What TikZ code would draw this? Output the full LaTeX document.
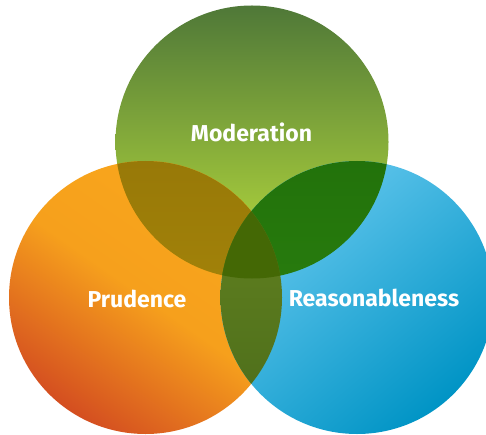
\documentclass[tikz,border=0pt]{standalone}
\usepackage{fontspec}
\setmainfont{Fira Sans}

\definecolor{greentop}{HTML}{4F7838}
\definecolor{greenbot}{HTML}{BCE03C}
\definecolor{orangelight}{HTML}{F9A71C}
\definecolor{orangedark}{HTML}{D44E20}
\definecolor{bluelight}{HTML}{6ACAF0}
\definecolor{bluedark}{HTML}{0094C5}
\definecolor{olivetop}{HTML}{987908}
\definecolor{olivebot}{HTML}{AD8C0A}
\definecolor{leaftop}{HTML}{22720B}
\definecolor{leafbot}{HTML}{2E8610}
\definecolor{lenstop}{HTML}{668521}
\definecolor{lensbot}{HTML}{4B6C1A}
\definecolor{core}{HTML}{446805}

\tikzset{
    label text/.style={text=white, font=\bfseries\fontsize{23}{26}\selectfont}
}

\begin{document}
\begin{tikzpicture}[x=1pt, y=1pt]

    % Fix the page to the size of the picture
    \useasboundingbox (0, 0) rectangle (486, 434);

    % Define the centres of the three circles
    \coordinate (M) at (252, 292);
    \coordinate (P) at (145.5, 136.5);
    \coordinate (R) at (357, 136.5);
    \def\rad{136.5}

    % Draw the three circles
    % The orange one stays almost flat above its diagonal and darkens below it
    % (middle color has to come last, top/bottom color reset it)
    \shade[top color=greentop, bottom color=greenbot] (M) circle (\rad);
    \shade[top color=orangelight, bottom color=orangedark, middle color=orangelight!92!orangedark, shading angle=-35] (P) circle (\rad);
    \shade[top color=bluelight, bottom color=bluedark, shading angle=40] (R) circle (\rad);

    % Overlap of Moderation and Prudence
    \begin{scope}
        \clip (M) circle (\rad);
        \shade[top color=olivetop, bottom color=olivebot] (P) circle (\rad);
    \end{scope}

    % Overlap of Moderation and Reasonableness
    \begin{scope}
        \clip (M) circle (\rad);
        \shade[top color=leaftop, bottom color=leafbot] (R) circle (\rad);
    \end{scope}

    % Overlap of Prudence and Reasonableness
    \begin{scope}
        \clip (P) circle (\rad);
        \shade[top color=lenstop, bottom color=lensbot] (R) circle (\rad);
    \end{scope}

    % Overlap of all three circles
    \begin{scope}
        \clip (M) circle (\rad);
        \clip (P) circle (\rad);
        \fill[core] (R) circle (\rad);
    \end{scope}

    % Add the labels of the circles
    \node[label text] (moderation) at (251.5, 302) {Moderation};
    \node[label text] (prudence) at (137, 135) {Prudence};
    \node[label text] (reason) at (374, 136) {Reasonableness};

\end{tikzpicture}
\end{document}
